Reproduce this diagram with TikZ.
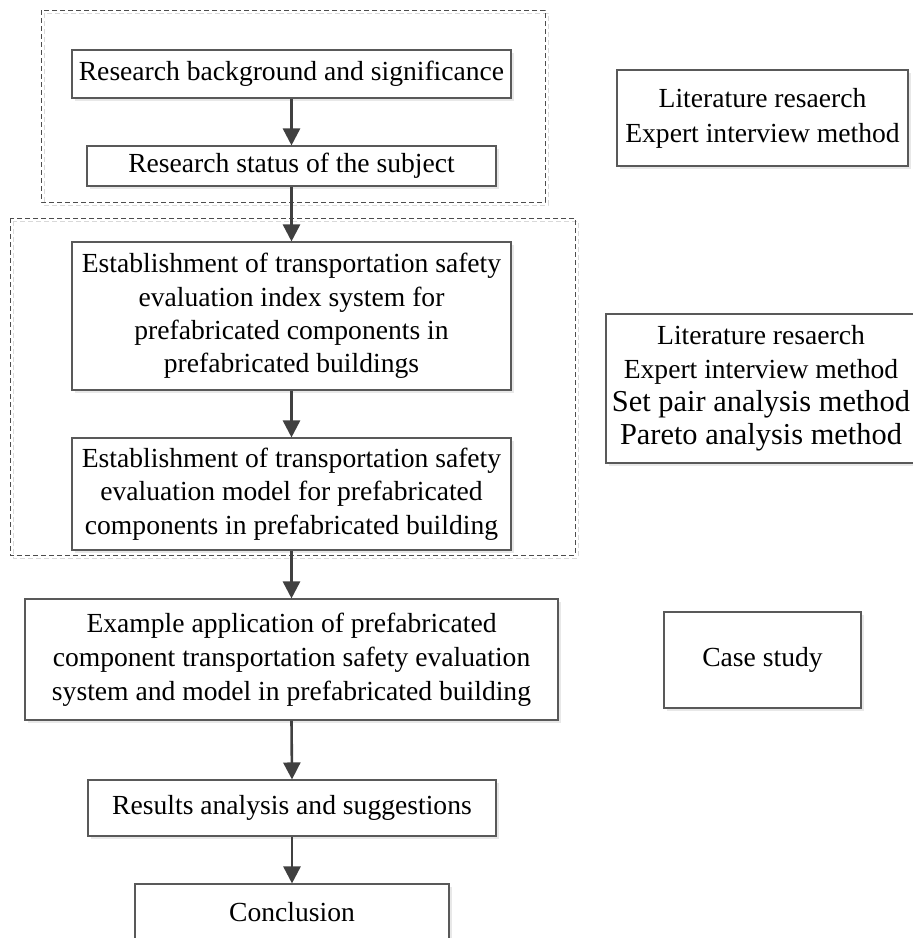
\documentclass[tikz,border=0pt]{standalone}
\usepackage{fontspec}
\setmainfont{Liberation Serif}
\usetikzlibrary{arrows.meta,shadows}
\begin{document}
\begin{tikzpicture}[x=1pt,y=1pt,
  mbox/.style={draw=black!65, line width=1.1pt, fill=white, inner sep=0pt, align=center,
    font=\fontsize{27.6}{33.3}\selectfont,
    drop shadow={shadow xshift=3pt, shadow yshift=-3pt, fill=black!9, opacity=1}},
  flow/.style={draw=black!75, line width=2.6pt, -{Triangle[length=17pt,width=17pt]}},
  group/.style={draw=black!70, line width=0.9pt, dash pattern=on 5pt off 3pt}
]
\clip (0,0) rectangle (913,-938);
% dashed groups
\draw[group, black!15] (44,-13) rectangle (548,-205);
\draw[group] (41,-10) rectangle (545,-202);
\draw[group, black!15] (13,-221) rectangle (578,-558);
\draw[group] (10,-218) rectangle (575,-555);
% main flow
\node[mbox, minimum width=439pt, minimum height=48pt] (b1) at (291.5,-74) {Research background and significance};
\node[mbox, minimum width=409pt, minimum height=40pt] (b2) at (291.5,-166) {Research status of the subject};
\node[mbox, minimum width=439pt, minimum height=148pt] (b3) at (291.5,-316) {Establishment of transportation safety\\evaluation index system for\\prefabricated components in\\prefabricated buildings};
\node[mbox, minimum width=439pt, minimum height=112pt] (b4) at (291.5,-494) {Establishment of transportation safety\\evaluation model for prefabricated\\components in prefabricated building};
\node[mbox, minimum width=533pt, minimum height=121pt, font=\fontsize{27.6}{34}\selectfont] (b5) at (291.5,-659.5) {Example application of prefabricated\\component transportation safety evaluation\\system and model in prefabricated building};
\node[mbox, minimum width=408pt, minimum height=56pt] (b6) at (292,-808) {Results analysis and suggestions};
\node[mbox, minimum width=314pt, minimum height=56pt] (b7) at (292,-912) {Conclusion};
% methods
\node[mbox, minimum width=291pt, minimum height=96pt, font=\fontsize{27.6}{35}\selectfont] (mA) at (762.5,-118) {Literature resaerch\\Expert interview method};
\node[mbox, minimum width=310pt, minimum height=149pt] (mB) at (761,-388.5) {\fontsize{27.6}{36.5}\selectfont Literature resaerch\\\fontsize{27.6}{36.5}\selectfont Expert interview method\\\fontsize{30.4}{36.5}\selectfont Set pair analysis method\\\fontsize{30.4}{36.5}\selectfont Pareto analysis method};
\node[mbox, minimum width=197pt, minimum height=96pt] (mC) at (762.5,-660) {Case study};
% arrows
\draw[flow] (b1.south) -- (b2.north);
\draw[flow] (b2.south) -- (b3.north);
\draw[flow] (b3.south) -- (b4.north);
\draw[flow] (b4.south) -- (b5.north);
\draw[flow] (b5.south) -- (b6.north);
\draw[flow] (b6.south) -- (b7.north);
\end{tikzpicture}
\end{document}
